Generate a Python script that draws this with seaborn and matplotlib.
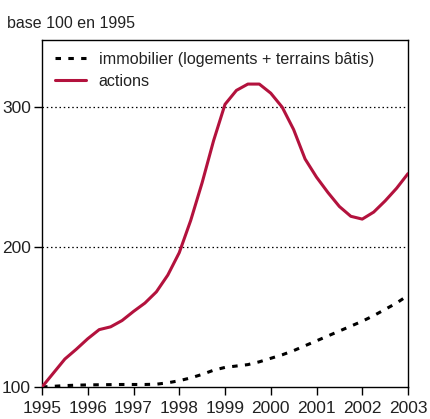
import numpy as np
import pandas as pd
import matplotlib
matplotlib.use("Agg")
import matplotlib.pyplot as plt
import seaborn as sns

# quarterly points, base 100 en 1995
dates = [1995 + q / 4 for q in range(33)]

immobilier = [100, 100.5, 101, 101.3, 101.5, 101.6, 101.7, 101.8,
              101.8, 101.8, 102, 103, 104.5, 106.5, 109, 112,
              114, 115, 116, 118, 120.5, 123, 126, 129.5,
              133, 136.5, 140, 143.5, 147, 151, 155.5, 160, 165.5]

actions = [100, 110, 120, 127, 134.5, 141, 143, 147.5,
           154, 160, 168, 180, 196, 219, 246, 276,
           302, 312, 316.5, 316.5, 310, 300, 284, 263,
           250, 239, 229, 222, 220, 225, 233, 242, 252.5]

year_ticks = list(range(1995, 2004))
y_ticks = [100, 200, 300]

label_immo = "immobilier (logements + terrains bâtis)"
label_actions = "actions"


def build_frame():
    immo = pd.DataFrame({"date": dates, "indice": immobilier, "serie": label_immo})
    act = pd.DataFrame({"date": dates, "indice": actions, "serie": label_actions})
    return pd.concat([immo, act], ignore_index=True)


if __name__ == "__main__":
    sns.set_style("white")
    plt.rcParams["font.family"] = ["Liberation Sans", "DejaVu Sans"]

    data = build_frame()

    fig = plt.figure(figsize=(4.3, 4.19), dpi=100)
    ax = fig.add_axes([42 / 430, 1 - 387 / 419, 366 / 430, 347 / 419])

    # dotted reference lines
    for v in y_ticks[1:]:
        ax.axhline(v, color="black", lw=0.9, ls=(0, (1.2, 2.2)), zorder=1)

    sns.lineplot(data=data, x="date", y="indice", hue="serie",
                 palette={label_immo: "black", label_actions: "#b3123d"},
                 ax=ax, legend=False, zorder=3)
    lines = ax.get_lines()
    immo_line, act_line = lines[-2], lines[-1]
    immo_line.set_linestyle((0, (1.8, 2.4)))
    immo_line.set_linewidth(2.2)
    act_line.set_linewidth(2.2)

    ax.set_xlim(1995, 2003)
    ax.set_ylim(100, 348)
    ax.set_xticks(year_ticks)
    ax.set_yticks(y_ticks)
    ax.set_xlabel("")
    ax.set_ylabel("")
    ax.tick_params(axis="both", direction="out", length=6, width=1,
                   labelsize=12.5, colors="black")
    ax.tick_params(axis="x", bottom=True, pad=4)
    ax.tick_params(axis="y", left=True, pad=2)
    for lab in ax.get_xticklabels() + ax.get_yticklabels():
        lab.set_color("#222222")
    for s in ax.spines.values():
        s.set_color("black")
        s.set_linewidth(1)

    leg = ax.legend([immo_line, act_line], [label_immo, label_actions],
                    loc="upper left", frameon=False, fontsize=11.6,
                    handlelength=1.95, handletextpad=0.75, labelspacing=0.45,
                    borderaxespad=0.0, bbox_to_anchor=(0.018, 0.985))
    for t in leg.get_texts():
        t.set_color("#222222")

    fig.text(7 / 430, 1 - 23 / 419, "base 100 en 1995", fontsize=11.5,
             va="center", ha="left", color="#222222")

    fig.savefig("out.png", dpi=100)
    plt.close(fig)
